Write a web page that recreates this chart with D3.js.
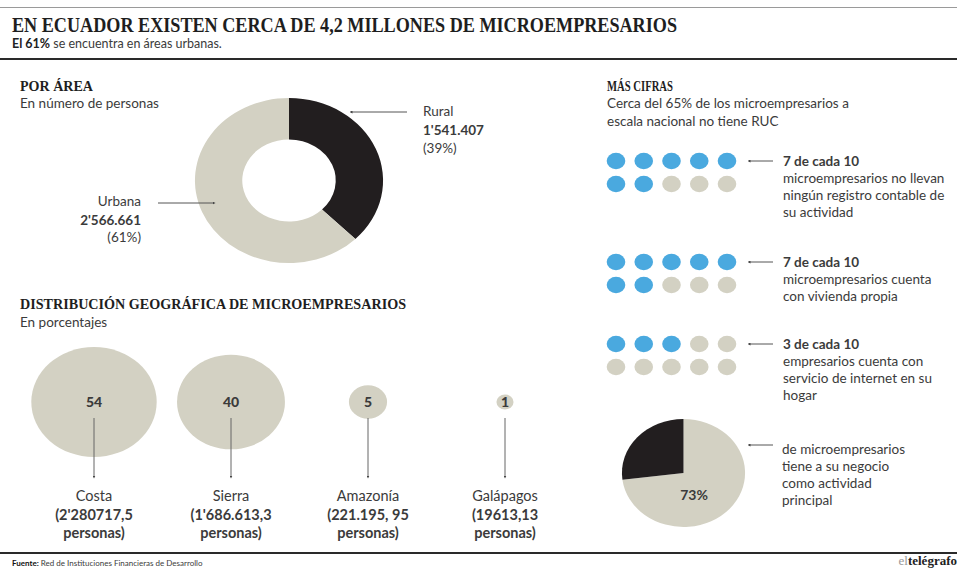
<!DOCTYPE html>
<html>
<head>
<meta charset="utf-8">
<script src="https://cdn.jsdelivr.net/npm/d3@7"></script>
<style>
  body { margin: 0; background: #fff; }
  svg { display: block; }
  .sans { font-family: Lato, "Open Sans", sans-serif; fill: #3b3b3b; }
  .serif { font-family: "Liberation Serif", "DejaVu Serif", serif; font-weight: bold; fill: #1e1e1e; }
</style>
</head>
<body>
<div id="vis"></div>
<script>
// Por área (donut)
const areaNames = ['Rural', 'Urbana'];
const areaValues = [1541407, 2566661];
const areaNumbers = ["1'541.407", "2'566.661"];
const areaPcts = ['(39%)', '(61%)'];

// Distribución geográfica (burbujas, en porcentajes)
const regions = ['Costa', 'Sierra', 'Amazonía', 'Galápagos'];
const regionPct = [54, 40, 5, 1];
const regionPersons = ["(2'280717,5", "(1'686.613,3", '(221.195, 95', '(19613,13'];

// Más cifras (10 puntos por grupo)
const cifraCounts = [7, 7, 3];
const cifraHeads = ['7 de cada 10', '7 de cada 10', '3 de cada 10'];
const cifraTexts = [
    ['microempresarios no llevan', 'ningún registro contable de', 'su actividad'],
    ['microempresarios cuenta', 'con vivienda propia'],
    ['empresarios cuenta con', 'servicio de internet en su', 'hogar']
];

// Negocio como actividad principal (pie)
const mainActivity = [73, 27];
const mainActivityText = ['de microempresarios', 'tiene a su negocio', 'como actividad', 'principal'];

const beige = '#d3d1c3';
const dark = '#221e1f';
const blue = '#4aa9df';
const stretch = 1.14; // the original graphic is slightly wider than tall

let svg = d3.select('#vis').append('svg')
    .attr('width', 957)
    .attr('height', 568);

let defs = svg.append('defs');
defs.append('marker')
    .attr('id', 'arrow')
    .attr('viewBox', '0 0 6 6')
    .attr('refX', 3).attr('refY', 3)
    .attr('markerWidth', 3).attr('markerHeight', 3)
    .attr('orient', 'auto-start-reverse')
    .append('path')
    .attr('d', 'M0,0 L6,3 L0,6 Z')
    .attr('fill', '#444');

// ---------- header ----------
svg.append('line').attr('x1', 0).attr('x2', 957).attr('y1', 7.5).attr('y2', 7.5)
    .attr('stroke', '#9a9a9a').attr('stroke-width', 1);
svg.append('text').attr('class', 'serif')
    .attr('x', 12).attr('y', 32)
    .attr('font-size', 21)
    .attr('textLength', 665).attr('lengthAdjust', 'spacingAndGlyphs')
    .text('EN ECUADOR EXISTEN CERCA DE 4,2 MILLONES DE MICROEMPRESARIOS');
let sub = svg.append('text').attr('class', 'sans')
    .attr('x', 12).attr('y', 48).attr('font-size', 12.5);
sub.append('tspan').attr('font-weight', 'bold').attr('fill', '#222').text('El 61%');
sub.append('tspan').text(' se encuentra en áreas urbanas.');
svg.append('line').attr('x1', 0).attr('x2', 957).attr('y1', 59).attr('y2', 59)
    .attr('stroke', '#2a2a2a').attr('stroke-width', 2);

let sectionTitle = (x, y, txt, len) => {
    let t = svg.append('text').attr('class', 'serif')
        .attr('x', x).attr('y', y).attr('font-size', 15).text(txt);
    if (len) t.attr('textLength', len).attr('lengthAdjust', 'spacingAndGlyphs');
};
let plain = (x, y, txt, opts = {}) => svg.append('text').attr('class', 'sans')
    .attr('x', x).attr('y', y)
    .attr('font-size', opts.size || 13.5)
    .attr('font-weight', opts.bold ? 'bold' : null)
    .attr('fill', opts.bold ? '#1e1e1e' : null)
    .attr('text-anchor', opts.anchor || 'start')
    .text(txt);

// ---------- POR ÁREA ----------
sectionTitle(20, 91, 'POR ÁREA', 73);
plain(20, 108, 'En número de personas');

let donutPie = d3.pie().sort(null).value(d => d);
let donutArc = d3.arc().innerRadius(41).outerRadius(82.5);
let donut = svg.append('g')
    .attr('transform', `translate(289, 180.5) scale(${stretch}, 1)`);
donut.selectAll('path')
    .data(donutPie(areaValues))
    .join('path')
    .attr('d', donutArc)
    .attr('fill', (d, i) => i === 0 ? dark : beige);

// Rural label
svg.append('line').attr('x1', 407).attr('x2', 351).attr('y1', 112).attr('y2', 112)
    .attr('stroke', '#555').attr('stroke-width', 1).attr('marker-end', 'url(#arrow)');
plain(423, 116, areaNames[0]);
plain(423, 135, areaNumbers[0], { bold: true });
plain(423, 153, areaPcts[0]);
// Urbana label
svg.append('line').attr('x1', 158).attr('x2', 214).attr('y1', 203).attr('y2', 203)
    .attr('stroke', '#555').attr('stroke-width', 1).attr('marker-end', 'url(#arrow)');
plain(141, 206, areaNames[1], { anchor: 'end' });
plain(141, 225, areaNumbers[1], { bold: true, anchor: 'end' });
plain(141, 242, areaPcts[1], { anchor: 'end' });

// ---------- DISTRIBUCIÓN GEOGRÁFICA ----------
sectionTitle(20, 309, 'DISTRIBUCIÓN GEOGRÁFICA DE MICROEMPRESARIOS', 386);
plain(20, 327, 'En porcentajes');

let xRegion = d3.scalePoint().domain(regions).range([94, 505]);
let rRegion = d3.scaleSqrt().domain([0, 54]).range([0, 55]);
let bubbleY = 402;

let bubbles = svg.selectAll('g.bubble')
    .data(regions.map((r, i) => ({ name: r, pct: regionPct[i], persons: regionPersons[i] })))
    .join('g')
    .attr('class', 'bubble');

bubbles.append('ellipse')
    .attr('cx', d => xRegion(d.name))
    .attr('cy', bubbleY)
    .attr('rx', d => rRegion(d.pct) * stretch)
    .attr('ry', d => rRegion(d.pct))
    .attr('fill', beige);

bubbles.append('text').attr('class', 'sans')
    .attr('x', d => xRegion(d.name))
    .attr('y', bubbleY + 5)
    .attr('text-anchor', 'middle')
    .attr('font-size', 14).attr('font-weight', 900).attr('fill', '#1e1e1e')
    .text(d => d.pct);

bubbles.append('line')
    .attr('x1', d => xRegion(d.name)).attr('x2', d => xRegion(d.name))
    .attr('y1', 418).attr('y2', 477)
    .attr('stroke', '#666').attr('stroke-width', 1)
    .attr('marker-end', 'url(#arrow)');

bubbles.append('text').attr('class', 'sans')
    .attr('x', d => xRegion(d.name)).attr('y', 501)
    .attr('text-anchor', 'middle').attr('font-size', 14.5)
    .text(d => d.name);
bubbles.append('text').attr('class', 'sans')
    .attr('x', d => xRegion(d.name)).attr('y', 520)
    .attr('text-anchor', 'middle').attr('font-size', 14.5)
    .attr('font-weight', 'bold').attr('fill', '#1e1e1e')
    .text(d => d.persons);
bubbles.append('text').attr('class', 'sans')
    .attr('x', d => xRegion(d.name)).attr('y', 538)
    .attr('text-anchor', 'middle').attr('font-size', 14.5)
    .attr('font-weight', 'bold').attr('fill', '#1e1e1e')
    .text('personas)');

// ---------- MÁS CIFRAS ----------
sectionTitle(607, 91, 'MÁS CIFRAS', 66);
plain(607, 108, 'Cerca del 65% de los microempresarios a');
plain(607, 126, 'escala nacional no tiene RUC');

let groupTops = [161, 262, 344];
let xDot = d3.scalePoint().domain(d3.range(5)).range([616, 727]);
let rowGap = 23;

cifraCounts.forEach((count, gi) => {
    let top = groupTops[gi];
    let g = svg.append('g');
    g.selectAll('ellipse')
        .data(d3.range(10))
        .join('ellipse')
        .attr('cx', i => xDot(i % 5))
        .attr('cy', i => top + Math.floor(i / 5) * rowGap)
        .attr('rx', 9.3).attr('ry', 8.2)
        .attr('fill', i => i < count ? blue : beige);

    g.append('line').attr('x1', 773).attr('x2', 749).attr('y1', top).attr('y2', top)
        .attr('stroke', '#555').attr('stroke-width', 1).attr('marker-end', 'url(#arrow)');
    plain(783, top + 5, cifraHeads[gi], { bold: true });
    cifraTexts[gi].forEach((line, li) => plain(783, top + 22 + li * 17, line));
});

// small pie
let smallPie = d3.pie().sort(null).value(d => d);
let smallArc = d3.arc().innerRadius(0).outerRadius(54);
let pieG = svg.append('g')
    .attr('transform', `translate(683.5, 473) scale(${stretch}, 1)`);
pieG.selectAll('path')
    .data(smallPie(mainActivity))
    .join('path')
    .attr('d', smallArc)
    .attr('fill', (d, i) => i === 0 ? beige : dark);
plain(694, 500, mainActivity[0] + '%', { bold: true, anchor: 'middle', size: 14 });

svg.append('line').attr('x1', 773).attr('x2', 749).attr('y1', 445).attr('y2', 445)
    .attr('stroke', '#555').attr('stroke-width', 1).attr('marker-end', 'url(#arrow)');
mainActivityText.forEach((line, li) => plain(782, 454 + li * 17, line));

// ---------- footer ----------
svg.append('line').attr('x1', 0).attr('x2', 957).attr('y1', 553).attr('y2', 553)
    .attr('stroke', '#2a2a2a').attr('stroke-width', 2);
let foot = svg.append('text').attr('class', 'sans')
    .attr('x', 12).attr('y', 566).attr('font-size', 8);
foot.append('tspan').attr('font-weight', 'bold').attr('fill', '#111').text('Fuente:');
foot.append('tspan').text(' Red de Instituciones Financieras de Desarrollo');
let brand = svg.append('text')
    .attr('x', 957).attr('y', 565).attr('text-anchor', 'end')
    .attr('font-family', '"Liberation Serif", serif').attr('font-size', 13);
brand.append('tspan').attr('fill', '#999').text('el');
brand.append('tspan').attr('fill', '#222').attr('font-weight', 'bold').text('telégrafo');
</script>
</body>
</html>
